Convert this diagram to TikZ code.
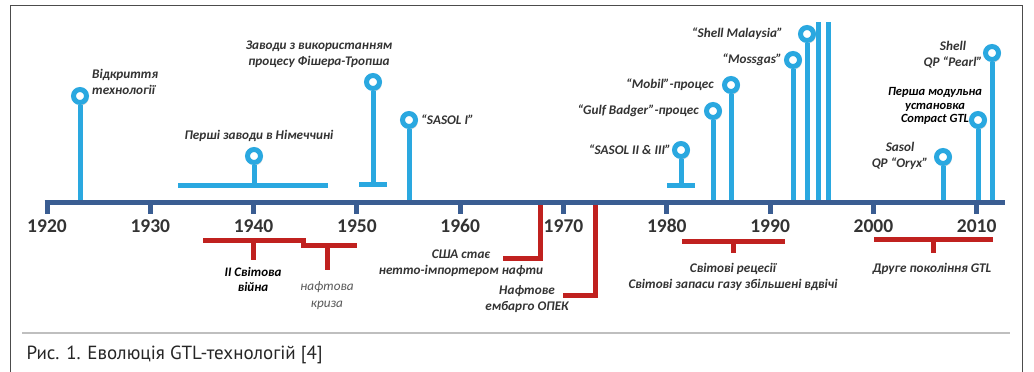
\documentclass[tikz,border=0pt]{standalone}
\usepackage{fontspec}
\setmainfont{Carlito}
\newfontfamily\capfont{PT Sans}
\usepackage{xcolor}
\usepackage{tikz}
\usetikzlibrary{positioning, shadows}

\definecolor{stemblue}{HTML}{2AA8E0}
\definecolor{axisblue}{HTML}{3A5D92}
\definecolor{evred}{HTML}{C0211F}
\definecolor{lblgray}{HTML}{333333}

\begin{document}
\begin{tikzpicture}[x=1pt, y=-1pt,
    dot/.style={circle, draw=stemblue, fill=white, line width=5pt, minimum size=13pt, inner sep=0pt,
      drop shadow={shadow xshift=2pt, shadow yshift=-2.5pt, opacity=0.3}},
    stem/.style={stemblue, line width=5pt},
    redl/.style={evred, line width=5pt},
    yrtick/.style={axisblue, line width=5pt},
    lbl/.style={font=\fontsize{13.2}{16}\selectfont\bfseries\itshape, text=lblgray, align=center, inner sep=1pt},
    yr/.style={font=\fontsize{19.5}{20}\selectfont\bfseries, text=black!80, inner sep=0pt}
  ]
  \useasboundingbox (0,0) rectangle (1034,372);
  \fill[white] (0,0) rectangle (1034,372);

  % frame and caption
  \draw[black!70, line width=0.8pt] (10,372) -- (10,5) -- (1022,5) -- (1022,372);
  \draw[black!25, line width=1.2pt] (22,333) -- (1010,333);
  \node[anchor=west, font=\capfont\fontsize{19}{21}\selectfont, text=black!85] (cap) at (23,355) {Рис. 1. Еволюція GTL-технологій [4]};

  % axis ends
  \coordinate (axl) at (44.5,202);
  \coordinate (axr) at (1005,202);

  % red events below the axis
  \draw[redl] (203,240) -- (303,240) -- (303,245) -- (357,245);
  \coordinate (ww2) at (253,240);
  \coordinate (cris) at (327,245);
  \draw[redl] (ww2) -- ++(0,20);
  \draw[redl] (cris) -- ++(0,25);
  \node[lbl, text=black, font=\fontsize{13}{15}\selectfont\bfseries\itshape] (ww2l) at (253,279) {ІІ Світова\\війна};
  \node[lbl, text=black!65, font=\fontsize{13.2}{17}\selectfont\itshape] (crisl) at (327,296) {нафтова\\криза};

  \coordinate (usa) at (540,202);
  \coordinate (opec) at (595,202);
  \draw[redl] (usa) -- ++(0,56) -- ++(-37,0);
  \draw[redl] (opec) -- ++(0,93) -- ++(-32,0);
  \node[lbl] (usal) at (461,263) {США стає\\нетто-імпортером нафти};
  \node[lbl] (opecl) at (527,299) {Нафтове\\ембарго ОПЕК};

  \draw[redl] (682,241) -- (785,241);
  \coordinate (rec) at (733,241);
  \draw[redl] (rec) -- ++(0,12);
  \node[lbl] (recl) at (733,277) {Світові рецесії\\Світові запаси газу збільшені вдвічі};

  \draw[redl] (874,239) -- (993,239);
  \coordinate (gtl) at (933,239);
  \draw[redl] (gtl) -- ++(0,14);
  \node[lbl] (gtll) at (932,269) {Друге покоління GTL};

  % stems with no marker
  \coordinate (top1) at (818,22);
  \coordinate (top2) at (828,22);
  \draw[stem] (top1) -- (top1 |- axl);
  \draw[stem] (top2) -- (top2 |- axl);

  % bars
  \coordinate (germa) at (178,185);
  \coordinate (germb) at (328,185);
  \coordinate (fta) at (359,184);
  \coordinate (ftb) at (387,184);
  \coordinate (sasa) at (667,185);
  \coordinate (sasb) at (695,185);
  \draw[stem] (germa) -- (germb);
  \draw[stem] (fta) -- (ftb);
  \draw[stem] (sasa) -- (sasb);

  % markers
  \node[dot] (tech) at (80,96) {};
  \node[dot] (germ) at (254,156) {};
  \node[dot] (ft) at (373,82) {};
  \node[dot] (sas1) at (409,120) {};
  \node[dot] (sas2) at (681,150) {};
  \node[dot] (gulf) at (713,111) {};
  \node[dot] (mobil) at (731,85) {};
  \node[dot] (moss) at (793,60) {};
  \node[dot] (shmal) at (807,34) {};
  \node[dot] (oryx) at (943,157) {};
  \node[dot] (cgtl) at (978,120) {};
  \node[dot] (pearl) at (992,53) {};

  \draw[stem] (germ) -- (germ |- germa);
  \draw[stem] (ft) -- (ft |- fta);
  \draw[stem] (sas2) -- (sas2 |- sasa);
  \foreach \ev in {tech, sas1, gulf, mobil, moss, shmal, oryx, cgtl, pearl}
    \draw[stem] (\ev) -- (\ev |- axl);

  % labels
  \node[lbl, anchor=west, align=left] (techl) at (91,82) {Відкриття\\технології};
  \node[lbl] (germl) at (259,136) {Перші заводи в Німеччині};
  \node[lbl] (ftl) at (319,54) {Заводи з використанням\\процесу Фішера-Тропша};
  \node[lbl, right=2pt of sas1] (sas1l) {“SASOL I”};
  \node[lbl, left=0pt of sas2] (sas2l) {“SASOL II \& III”};
  \node[lbl, left=4pt of gulf] (gulfl) {“Gulf Badger”-процес};
  \node[lbl, left=7pt of mobil] (mobill) {“Mobil”-процес};
  \node[lbl, left=1pt of moss] (mossl) {“Mossgas”};
  \node[lbl, left=14pt of shmal] (shmall) {“Shell Malaysia”};
  \node[lbl] (oryxl) at (900,156) {Sasol\\QP “Oryx”};
  \node[lbl, text=black, font=\fontsize{12.5}{13.5}\selectfont\bfseries\itshape] (cgtll) at (935,106) {Перша модульна\\установка\\Compact GTL};
  \node[lbl] (pearll) at (953,55) {Shell\\QP “Pearl”};

  % axis with years
  \foreach \yr in {1920,1930,...,2010} {
    \coordinate (t\yr) at ({47+10.33*(\yr-1920)},202);
    \draw[yrtick] (t\yr) -- ++(0,12);
    \node[yr] (y\yr) at ({47+10.33*(\yr-1920)},226) {\yr};
  }
  \draw[axisblue, line width=5pt] (axl) -- (axr);
\end{tikzpicture}
\end{document}
